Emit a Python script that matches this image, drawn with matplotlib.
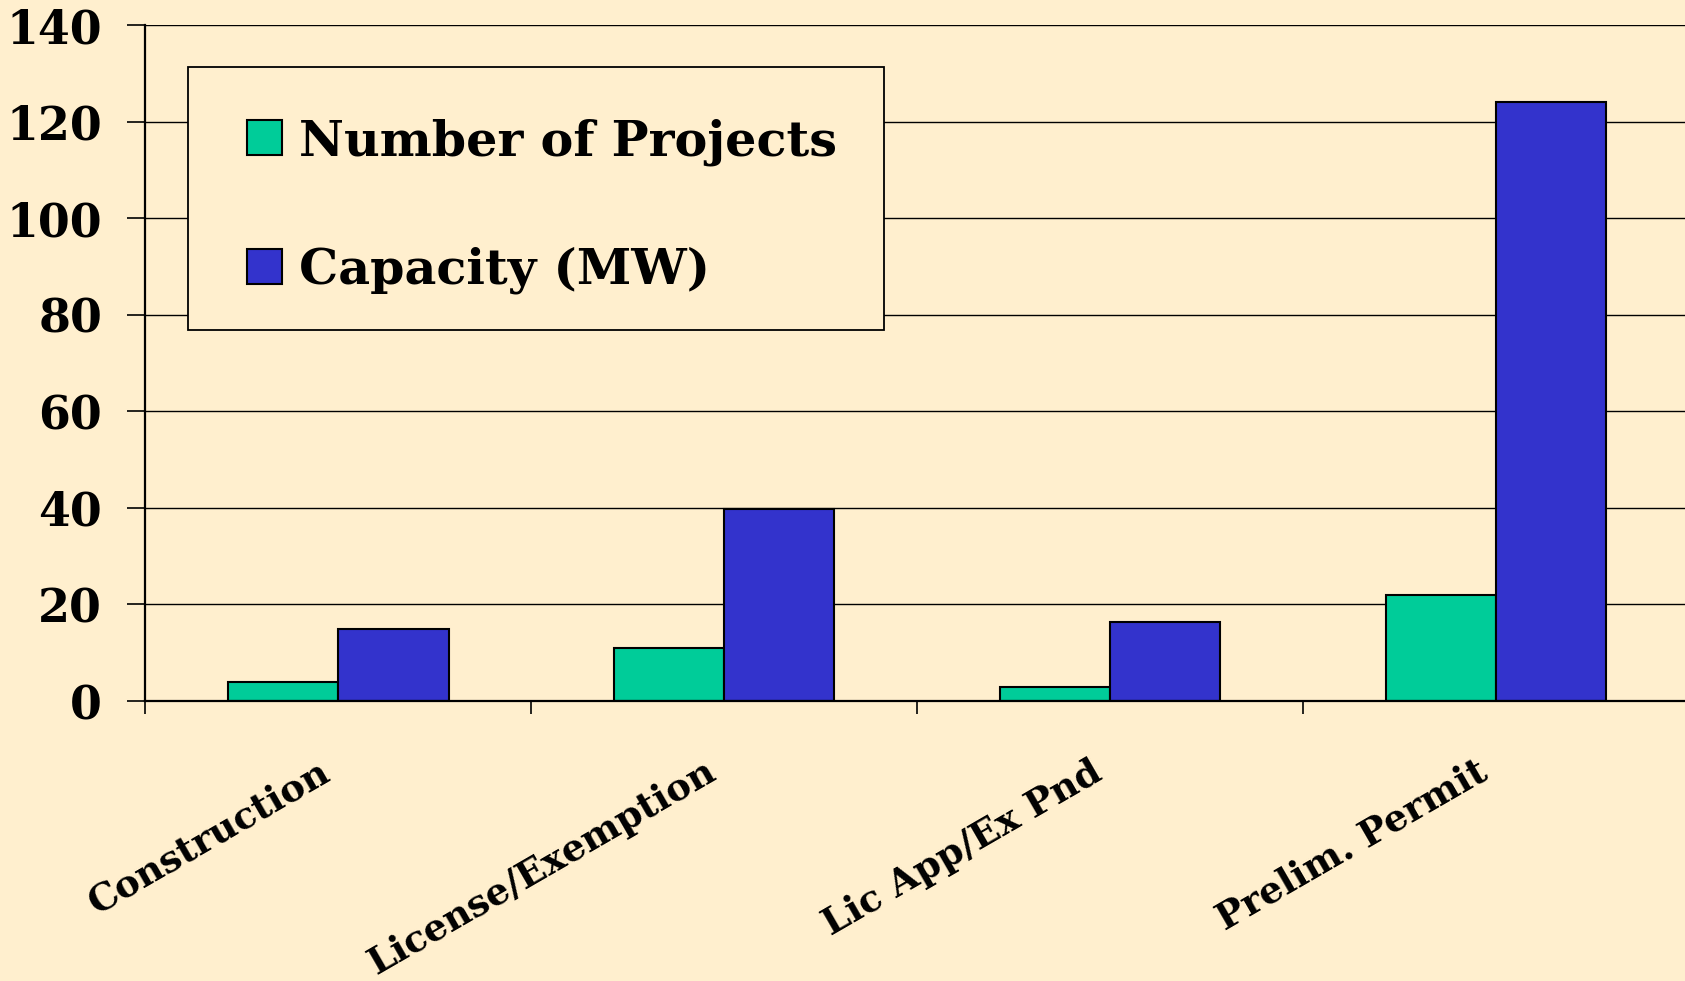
import matplotlib
matplotlib.use("Agg")
import matplotlib.pyplot as plt
from matplotlib.ticker import FixedLocator
from matplotlib.patches import Rectangle
from matplotlib.transforms import ScaledTranslation
import numpy as np

categories = ["Construction", "License/Exemption", "Lic App/Ex Pnd", "Prelim. Permit"]
projects = [4, 11, 3, 22]
capacity = [14.9, 39.7, 16.4, 124]
series_labels = ["Number of Projects", "Capacity (MW)"]
yticks = [0, 20, 40, 60, 80, 100, 120, 140]

bg = "#FFEFCE"
green = "#00CC99"
blue = "#3333CC"

plt.rcParams["font.family"] = ["DejaVu Serif"]
plt.rcParams["font.weight"] = "bold"

W, H = 1685, 981
fig = plt.figure(figsize=(W / 100, H / 100), dpi=100, facecolor=bg)
ax = fig.add_axes([145.3 / W, 1 - 701 / H, (1689 - 145.3) / W, (701 - 25) / H])
ax.set_facecolor(bg)

x = np.arange(len(categories))
w = 1 / 3.5
ax.bar(x - w / 2, projects, width=w, color=green, edgecolor="black", linewidth=1.5,
       label=series_labels[0], zorder=3)
ax.bar(x + w / 2, capacity, width=w, color=blue, edgecolor="black", linewidth=1.5,
       label=series_labels[1], zorder=3)

ax.set_xlim(-0.5, len(categories) - 0.5)
ax.set_ylim(0, 140)

ax.set_yticks(yticks)
ax.set_yticklabels([str(v) for v in yticks], fontsize=33, fontweight="bold")
ax.tick_params(axis="y", length=13, width=1.2, pad=18, color="black")
ax.yaxis.grid(True, color="black", linewidth=1.0, zorder=1)
ax.set_axisbelow(True)

ax.set_xticks(x)
ax.set_xticklabels(categories, fontsize=26.8, fontweight="bold", rotation=30,
                   ha="right", va="top", rotation_mode="anchor")
ax.tick_params(axis="x", length=0, pad=38)
shift = ScaledTranslation(-20 / 100, 0, fig.dpi_scale_trans)
for lbl in ax.get_xticklabels():
    lbl.set_transform(lbl.get_transform() + shift)
ax.xaxis.set_minor_locator(FixedLocator(np.arange(-0.5, len(categories), 1.0)))
ax.tick_params(axis="x", which="minor", length=9, width=1.2, color="black")

for s in ["top", "right"]:
    ax.spines[s].set_visible(False)
ax.spines["left"].set_linewidth(1.6)
ax.spines["bottom"].set_linewidth(1.6)
ax.spines["left"].set_zorder(4)
ax.spines["bottom"].set_zorder(4)

# legend frame box
frame = Rectangle((188 / W, 1 - 330 / H), 696 / W, 263.3 / H, transform=fig.transFigure,
                  facecolor=bg, edgecolor="black", linewidth=1.3, zorder=4.5, clip_on=False)
ax.add_patch(frame)

leg = ax.legend(loc="upper left", bbox_to_anchor=(247 / W, 1 - 118 / H),
                bbox_transform=fig.transFigure, fontsize=35.5, frameon=False,
                handlelength=0.70, handleheight=0.70, handletextpad=0.36,
                labelspacing=1.65, borderpad=0, borderaxespad=0)
leg.set_zorder(5)
for t in leg.get_texts():
    t.set_fontweight("bold")

fig.savefig("out.png", dpi=100, facecolor=bg)
